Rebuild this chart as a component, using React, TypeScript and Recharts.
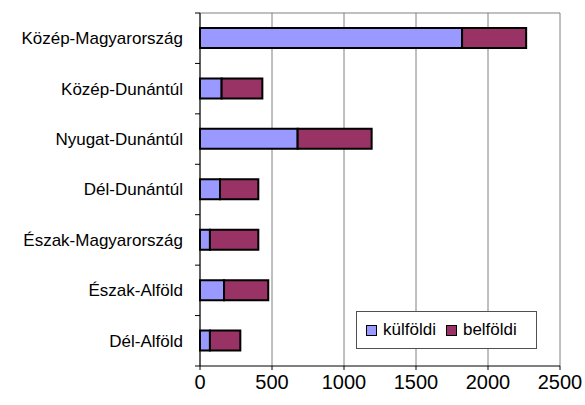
import { BarChart, Bar, XAxis, YAxis, CartesianGrid, Legend } from "recharts";

const regions = [
  "Közép-Magyarország",
  "Közép-Dunántúl",
  "Nyugat-Dunántúl",
  "Dél-Dunántúl",
  "Észak-Magyarország",
  "Észak-Alföld",
  "Dél-Alföld",
];
const kulfoldi = [1820, 150, 678, 139, 69, 167, 69];
const belfoldi = [445, 283, 514, 266, 336, 307, 211];
const seriesNames = ["külföldi", "belföldi"];
const xTicks = [0, 500, 1000, 1500, 2000, 2500];

const data = regions.map((name, i) => ({
  name,
  kulfoldi: kulfoldi[i],
  belfoldi: belfoldi[i],
}));

const W = 585;
const H = 405;
const margin = { top: 13, right: 25, bottom: 9, left: 0 };
const X_AXIS_H = 30;
const Y_AXIS_W = 200;
const Y_TICK = 5;
const FONT = "'Liberation Sans', Arial, sans-serif";
const band = (H - margin.top - margin.bottom - X_AXIS_H) / regions.length;

function RegionTick(props: any) {
  const { x, y, payload, index } = props;
  const lineX = margin.left + Y_AXIS_W;
  return (
    <g>
      <line x1={lineX - Y_TICK} x2={lineX} y1={y - band / 2} y2={y - band / 2} stroke="#000" />
      {index === regions.length - 1 && (
        <line x1={lineX - Y_TICK} x2={lineX} y1={y + band / 2} y2={y + band / 2} stroke="#000" />
      )}
      <text x={x} y={y} dy="0.35em" textAnchor="end" fontSize={17} fontFamily={FONT} fill="#000">
        {payload.value}
      </text>
    </g>
  );
}

function LegendBox({ payload }: any) {
  const items = [...(payload || [])].sort(
    (a: any, b: any) => seriesNames.indexOf(a.value) - seriesNames.indexOf(b.value)
  );
  return (
    <div
      style={{
        width: 181,
        height: 38,
        boxSizing: "border-box",
        border: "1px solid #505050",
        background: "#fff",
        display: "flex",
        alignItems: "center",
        paddingLeft: 9,
        fontFamily: FONT,
        fontSize: 17,
        color: "#000",
      }}
    >
      {items.map((p: any) => (
        <div key={p.value} style={{ display: "flex", alignItems: "center", marginRight: 10 }}>
          <span
            style={{
              width: 9,
              height: 9,
              background: p.color,
              border: "1.5px solid #000",
              marginRight: 6,
              display: "inline-block",
            }}
          />
          <span>{p.value}</span>
        </div>
      ))}
    </div>
  );
}

export default function App() {
  return (
    <div style={{ position: "absolute", left: 0, top: 0, background: "#fff" }}>
      <BarChart width={W} height={H} data={data} layout="vertical" margin={margin}>
        <CartesianGrid
          stroke="#808080"
          horizontalCoordinatesGenerator={({ offset }: any) => [offset.top]}
        />
        <XAxis
          type="number"
          domain={[0, 2500]}
          ticks={xTicks}
          height={X_AXIS_H}
          tickSize={4}
          tickMargin={5}
          axisLine={{ stroke: "#000" }}
          tickLine={{ stroke: "#000" }}
          tick={{ fontSize: 20, fontFamily: FONT, fill: "#000" }}
          interval={0}
        />
        <YAxis
          type="category"
          dataKey="name"
          width={Y_AXIS_W}
          tickSize={Y_TICK}
          tickMargin={12}
          axisLine={{ stroke: "#000" }}
          tickLine={false}
          tick={<RegionTick />}
          interval={0}
        />
        <Legend
          layout="horizontal"
          verticalAlign="middle"
          align="center"
          wrapperStyle={{ left: 356, top: 311, width: 181 }}
          content={<LegendBox />}
        />
        <Bar
          dataKey="kulfoldi"
          name={seriesNames[0]}
          stackId="a"
          fill="#9999FF"
          stroke="#000"
          strokeWidth={2}
          barSize={20}
          isAnimationActive={false}
        />
        <Bar
          dataKey="belfoldi"
          name={seriesNames[1]}
          stackId="a"
          fill="#993366"
          stroke="#000"
          strokeWidth={2}
          barSize={20}
          isAnimationActive={false}
        />
      </BarChart>
    </div>
  );
}
